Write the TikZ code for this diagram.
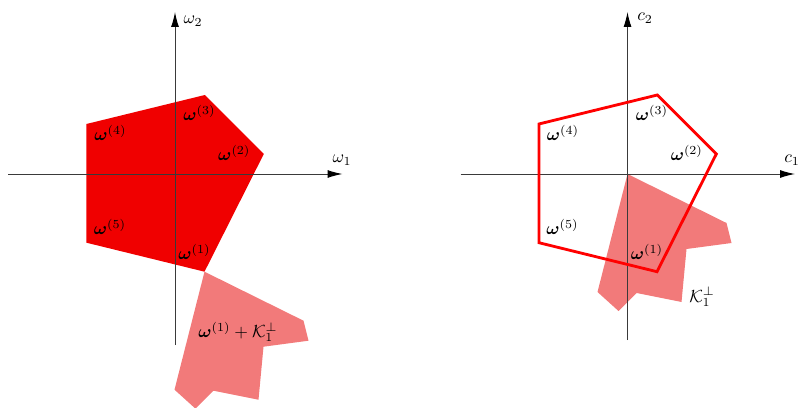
\documentclass[tikz,border=0pt]{standalone}
\usepackage{amsmath}
\usepackage{amssymb}
\usetikzlibrary{arrows.meta,calc}
\definecolor{polyRed}{HTML}{F00000}
\definecolor{coneRed}{HTML}{F27A7A}
\definecolor{axisGray}{HTML}{3A3A3A}
\tikzset{
  axisline/.style={-{Latex[length=8.5pt,width=4.5pt,black]}, axisGray, line width=0.55pt},
  polyfill/.style={fill=polyRed},
  polyline/.style={draw=red, line width=1.6pt, line join=miter},
  vlabel/.style={inner sep=0pt},
  axlabel/.style={inner sep=0pt},
  cone/.pic={
    \fill[coneRed] (0,0) -- (99,49) -- (104,69) -- (59,75) -- (54,128)
      -- (9,119) -- (-9,137) -- (-30,118) -- cycle;
  }
}

\begin{document}
\begin{tikzpicture}[x=0.02cm, y=-0.02cm]
  \useasboundingbox (0,0) rectangle (803,408);

  % vertices and axis ends of both panels
  \foreach \p/\ox/\yb in {L/175/345, R/627.5/340}{
    \coordinate (\p O) at (\ox,174);
    \coordinate (\p1) at (\ox+29.5,271.7);
    \coordinate (\p2) at (\ox+88.8,154);
    \coordinate (\p3) at (\ox+29.8,95);
    \coordinate (\p4) at (\ox-88.6,124);
    \coordinate (\p5) at (\ox-88.6,242.7);
    \coordinate (\p xs) at (\ox-167,174);
    \coordinate (\p xe) at (\ox+167.5,174);
    \coordinate (\p ys) at (\ox,\yb);
    \coordinate (\p ye) at (\ox,12);
  }

  % left panel: filled set and shifted cone
  \fill[polyfill] (L1) -- (L2) -- (L3) -- (L4) -- (L5) -- cycle;
  \pic at (L1) {cone};

  % right panel: cone at the origin, outlined set
  \pic at (RO) {cone};

  \foreach \p in {L,R}{
    \draw[axisline] (\p xs) -- (\p xe);
    \draw[axisline] (\p ys) -- (\p ye);
  }
  \draw[polyline] (R1) -- (R2) -- (R3) -- (R4) -- (R5) -- cycle;

  % vertex labels
  \foreach \p in {L,R}{
    \foreach \i/\dx/\dy in {1/-10/-20, 2/-29.5/-1, 3/-5.3/18, 4/24/9, 5/23.6/-15.7}{
      \node[vlabel] (\p l\i) at ($(\p\i)+(\dx,\dy)$) {$\boldsymbol{\omega}^{(\i)}$};
    }
  }

  % axis labels
  \node[axlabel] (Lx) at (342,160) {$\omega_1$};
  \node[axlabel] (Ly) at (193,21) {$\omega_2$};
  \node[axlabel] (Rx) at (792,160) {$c_1$};
  \node[axlabel] (Ry) at (645,18) {$c_2$};

  % cone labels
  \node[vlabel] (Lk) at (238,332) {$\boldsymbol{\omega}^{(1)}+\mathcal{K}_1^{\perp}$};
  \node[vlabel] (Rk) at (702,297) {$\mathcal{K}_1^{\perp}$};
\end{tikzpicture}
\end{document}
